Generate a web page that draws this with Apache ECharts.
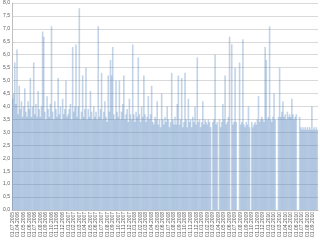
<!DOCTYPE html>
<html><head><meta charset="utf-8">
<script src="https://cdn.jsdelivr.net/npm/echarts@6/dist/echarts.min.js"></script>
<style>html,body{margin:0;padding:0;background:#fff}#c{width:320px;height:240px}</style>
</head><body><div id="c"></div>
<script>
var tickLabels = ["01.07.2005","01.04.2006","01.05.2006","01.06.2006","01.07.2006","01.08.2006","01.09.2006","01.10.2006","01.11.2006","01.12.2006",
"01.01.2007","01.02.2007","01.03.2007","01.04.2007","01.05.2007","01.06.2007","01.07.2007","01.08.2007","01.09.2007","01.10.2007","01.11.2007","01.12.2007",
"01.01.2008","01.02.2008","01.03.2008","01.04.2008","01.05.2008","01.06.2008","01.07.2008","01.08.2008","01.09.2008","01.10.2008","01.11.2008","01.12.2008",
"01.01.2009","01.02.2009","01.03.2009","01.04.2009","01.05.2009","01.06.2009","01.07.2009","01.08.2009","01.09.2009","01.10.2009","01.11.2009","01.12.2009",
"01.01.2010","01.02.2010","01.03.2010","01.04.2010","01.05.2010","01.06.2010","01.07.2010","01.08.2010","01.09.2010"];
var perTick = 5;
var values = [
4.3,4.5,5.7,4.1,6.2,3.7,4.8,3.9,4.2,3.6,4.0,4.7,3.8,3.6,4.2,3.9,5.1,3.6,4.0,5.7,3.7,4.1,3.6,4.6,3.9,
3.6,4.0,6.9,6.7,3.8,3.5,4.4,3.9,3.6,4.1,7.1,3.8,3.5,4.2,3.9,3.6,5.1,3.7,4.0,3.5,4.3,3.7,3.9,5.0,3.6,
3.7,3.9,4.1,3.5,6.3,3.8,4.0,6.4,3.6,4.0,7.8,3.5,3.8,5.2,3.6,3.9,5.5,3.5,3.9,3.6,4.6,3.8,3.5,4.0,3.6,
3.8,3.5,7.1,3.6,3.9,5.3,3.5,3.8,4.2,3.6,3.4,5.2,3.8,5.8,5.2,6.3,3.7,3.5,5.0,3.8,3.6,5.0,3.5,3.8,4.1,
5.2,3.5,3.7,3.9,3.4,4.3,3.7,3.5,6.4,3.7,3.4,3.8,3.6,5.9,3.7,3.4,4.0,3.6,5.2,3.7,3.4,3.6,4.4,3.5,3.7,
4.8,3.4,3.3,3.6,3.5,4.2,3.3,3.5,3.2,4.5,3.5,3.3,3.6,3.4,4.0,3.5,3.2,3.4,5.3,3.5,3.3,3.6,3.3,4.1,5.2,
3.3,3.5,5.1,3.2,3.4,5.3,3.5,3.2,4.3,3.4,3.5,3.2,3.6,3.4,4.0,3.3,5.9,3.4,3.5,3.2,3.4,4.2,3.3,3.5,3.4,
3.3,3.5,3.4,3.2,0,3.4,3.5,6.0,3.3,3.4,0,3.5,3.2,3.4,4.1,3.5,5.2,3.3,3.4,3.6,6.7,0,6.4,3.3,3.4,
5.5,3.4,0,0,5.7,3.3,3.4,6.6,3.3,3.2,3.4,3.3,4.0,3.2,0,3.4,3.2,3.3,3.4,3.3,3.5,4.4,3.4,3.5,3.6,
3.5,3.4,6.3,5.8,3.5,3.6,7.1,3.5,3.4,3.6,4.5,3.5,0,0,3.6,5.5,3.6,3.8,4.2,3.6,3.7,3.5,3.8,3.6,3.7,
3.6,4.3,3.7,3.5,3.6,3.7,0,0,3.6,3.2,3.1,3.2,3.1,3.2,3.1,3.2,3.1,3.2,3.1,4.0,3.1,3.2,3.1,3.2,3.1
];
var categories = values.map(function(v,i){ return String(i); });
var yTicks = {min:0, max:8, step:0.5};

var chart = echarts.init(document.getElementById('c'), null, {renderer:'canvas'});
chart.setOption({
  animation:false,
  textStyle:{fontFamily:'Liberation Sans, Arial, sans-serif'},
  grid:{left:12,right:2,top:3,bottom:27,containLabel:false},
  xAxis:{type:'category',data:categories,boundaryGap:true,
    axisLine:{lineStyle:{color:'#bfbfbf',width:1}},
    axisTick:{show:false},
    axisLabel:{interval:perTick-1,rotate:90,fontSize:5,color:'#595959',margin:2,
      formatter:function(v,idx){ var k=Math.floor(Number(v)/perTick); return tickLabels[k]||''; }},
    splitLine:{show:false}},
  yAxis:{type:'value',min:yTicks.min,max:yTicks.max,interval:yTicks.step,
    axisLine:{show:true,lineStyle:{color:'#bfbfbf'}},
    axisTick:{show:false},
    axisLabel:{fontSize:5,color:'#595959',margin:2,
      formatter:function(v){return v.toFixed(1).replace('.',',');}},
    splitLine:{lineStyle:{color:'#d9d9d9',width:1}}},
  series:[{type:'bar',data:values,barWidth:1.6,
    itemStyle:{color:'rgba(79,129,189,0.34)'}}]
});
</script></body></html>
